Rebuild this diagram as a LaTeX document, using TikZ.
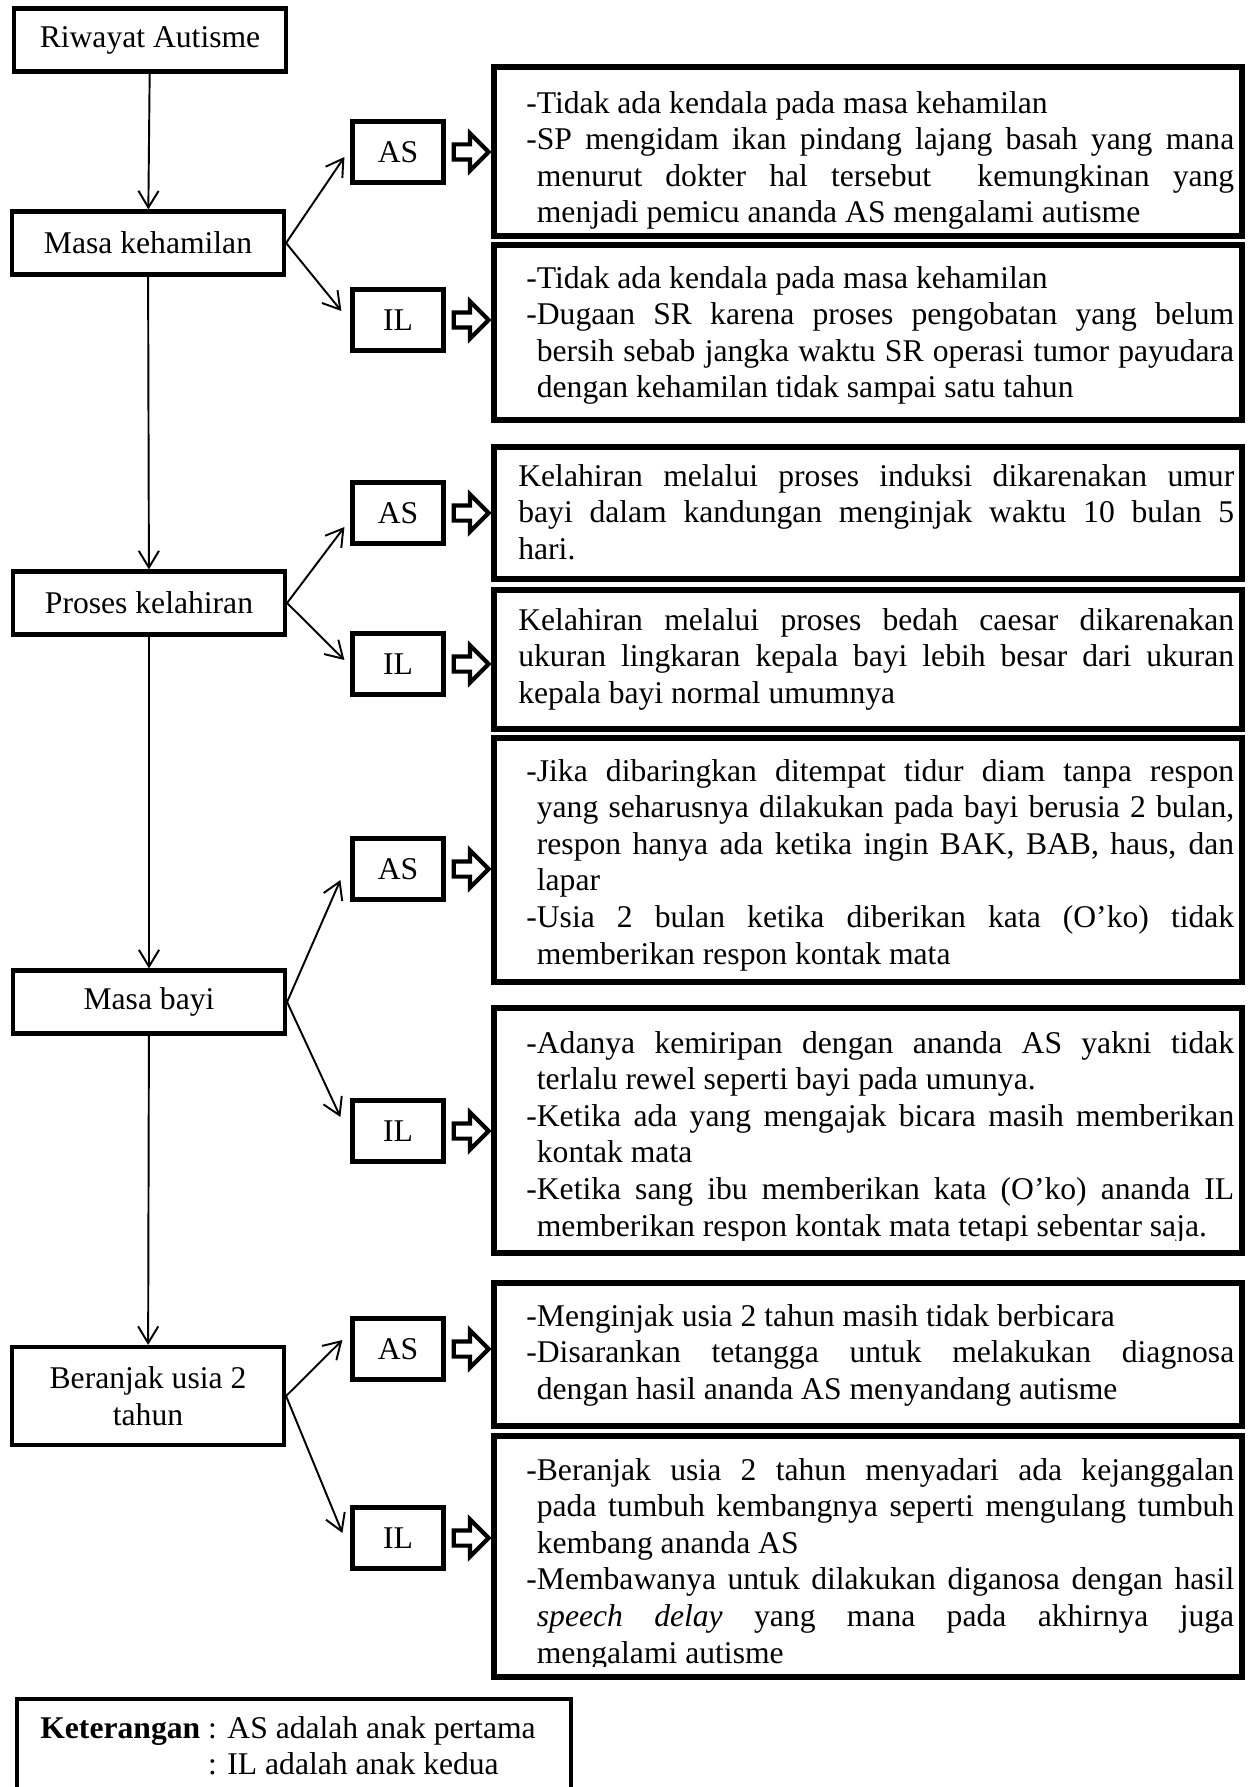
\documentclass[tikz,border=0pt]{standalone}
\usepackage{fontspec}
\setmainfont{Liberation Serif}
\usetikzlibrary{positioning,arrows.meta,shapes.arrows}

\tolerance=9999
\hbadness=10000
\hyphenpenalty=10000

% one dash item, text hangs after the dash (items are ended with \par)
\newcommand{\butir}{\noindent\hangindent=0.333em\hangafter=1 -}

\tikzset{
  tahap/.style={draw, line width=2.4pt, minimum width=5.44cm, minimum height=1.26cm, align=center},
  anak/.style={draw, line width=2.4pt, minimum width=1.82cm, minimum height=1.22cm},
  kotak/.style={draw, line width=3pt, minimum width=14.96cm, inner sep=0pt},
  isi/.style={anchor=north west, inner sep=0pt, text width=14.16cm, align=justify},
  isilebar/.style={isi, text width=14.32cm},
  panah/.style={line width=1.1pt, -{Straight Barb[length=9.5pt,width=11.5pt]}},
  blok/.style={draw, line width=2.4pt, single arrow, single arrow head extend=0.22cm,
    single arrow head indent=0pt, minimum height=0.70cm, minimum width=0.66cm, inner sep=0.11cm}
}

\begin{document}
\begin{tikzpicture}[x=0.02cm, y=-0.02cm, font=\fontsize{18pt}{20.8pt}\selectfont]
    \path[fill=white, use as bounding box] (0,0) rectangle (1250,1787);

    % Left column: stages
    \node[tahap] (riwayat) at (150,40) {Riwayat Autisme};
    \node[tahap] (hamil) at (148,243) {Masa kehamilan};
    \node[tahap] (lahir) at (149,603) {Proses kelahiran};
    \node[tahap] (bayi) at (149,1002) {Masa bayi};
    \node[tahap, minimum height=1.96cm] (duatahun) at (148,1396) {Beranjak usia 2\\tahun};

    % -- arrows down the column
    \draw[panah] (riwayat) -- (hamil);
    \draw[panah] (hamil) -- (lahir);
    \draw[panah] (lahir) -- (bayi);
    \draw[panah] (bayi) -- (duatahun);

    % Child boxes
    \node[anak] (asHamil) at (398,152) {AS};
    \node[anak] (ilHamil) at (398,320) {IL};
    \node[anak] (asLahir) at (398,513) {AS};
    \node[anak] (ilLahir) at (398,664) {IL};
    \node[anak] (asBayi) at (398,869) {AS};
    \node[anak] (ilBayi) at (398,1131) {IL};
    \node[anak] (asDua) at (398,1349) {AS};
    \node[anak] (ilDua) at (398,1538) {IL};

    % -- branches
    \draw[panah] (hamil.east) -- ([shift={(-6,5)}]asHamil.west);
    \draw[panah] (hamil.east) -- ([shift={(-9,-9)}]ilHamil.west);
    \draw[panah] (lahir.east) -- ([shift={(-6,14)}]asLahir.west);
    \draw[panah] (lahir.east) -- ([shift={(-6,-4)}]ilLahir.west);
    \draw[panah] (bayi.east) -- ([shift={(-10,11)}]asBayi.west);
    \draw[panah] (bayi.east) -- ([shift={(-10,-14)}]ilBayi.west);
    \draw[panah] (duatahun.east) -- ([shift={(-8,-9)}]asDua.west);
    \draw[panah] (duatahun.east) -- ([shift={(-8,-5)}]ilDua.west);

    % -- block arrows
    \node[blok, right=0.12cm of asHamil] (bAsHamil) {};
    \node[blok, right=0.12cm of ilHamil] (bIlHamil) {};
    \node[blok, right=0.12cm of asLahir] (bAsLahir) {};
    \node[blok, right=0.12cm of ilLahir] (bIlLahir) {};
    \node[blok, right=0.12cm of asBayi] (bAsBayi) {};
    \node[blok, right=0.12cm of ilBayi] (bIlBayi) {};
    \node[blok, right=0.12cm of asDua] (bAsDua) {};
    \node[blok, right=0.12cm of ilDua] (bIlDua) {};

    % Description boxes
    \node[kotak, minimum height=3.38cm] (kAsHamil) at (868,151.5) {};
    \node[kotak, minimum height=3.50cm] (kIlHamil) at (868,332.5) {};
    \node[kotak, minimum height=2.64cm] (kAsLahir) at (868,513) {};
    \node[kotak, minimum height=2.78cm] (kIlLahir) at (868,659.5) {};
    \node[kotak, minimum height=4.88cm] (kAsBayi) at (868,860) {};
    \node[kotak, minimum height=4.90cm] (kIlBayi) at (868,1130.5) {};
    \node[kotak, minimum height=2.86cm] (kAsDua) at (868,1354.5) {};
    \node[kotak, minimum height=4.82cm] (kIlDua) at (868,1556.5) {};

    % -- texts
    \node[isi] (tAsHamil) at (526,91) {%
      \butir Tidak ada kendala pada masa kehamilan\par
      \butir SP mengidam ikan pindang lajang basah yang mana\linebreak
      menurut dokter hal tersebut\ \ kemungkinan yang\linebreak
      menjadi pemicu ananda AS mengalami autisme\par};
    \node[isi] (tIlHamil) at (526,266) {%
      \butir Tidak ada kendala pada masa kehamilan\par
      \butir Dugaan SR karena proses pengobatan yang belum\linebreak
      bersih sebab jangka waktu SR operasi tumor payudara\linebreak
      dengan kehamilan tidak sampai satu tahun\par};
    \node[isilebar] (tAsLahir) at (518,464) {%
      Kelahiran melalui proses induksi dikarenakan umur\linebreak
      bayi dalam kandungan menginjak waktu 10 bulan 5\linebreak
      hari.};
    \node[isilebar] (tIlLahir) at (518,608) {%
      Kelahiran melalui proses bedah caesar dikarenakan\linebreak
      ukuran lingkaran kepala bayi lebih besar dari ukuran\linebreak
      kepala bayi normal umumnya};
    \node[isi] (tAsBayi) at (526,759) {%
      \butir Jika dibaringkan ditempat tidur diam tanpa respon\linebreak
      yang seharusnya dilakukan pada bayi berusia 2 bulan,\linebreak
      respon hanya ada ketika ingin BAK, BAB, haus, dan\linebreak
      lapar\par
      \butir Usia 2 bulan ketika diberikan kata (O’ko) tidak\linebreak
      memberikan respon kontak mata\par};
    \begin{scope}
      % text box cuts the last line
      \clip ([shift={(3,3)}]kIlBayi.north west) rectangle ([shift={(-3,-15)}]kIlBayi.south east);
      \node[isi] (tIlBayi) at (526,1031) {%
        \butir Adanya kemiripan dengan ananda AS yakni tidak\linebreak
        terlalu rewel seperti bayi pada umunya.\par
        \butir Ketika ada yang mengajak bicara masih memberikan\linebreak
        kontak mata\par
        \butir Ketika sang ibu memberikan kata (O’ko) ananda IL\linebreak
        memberikan respon kontak mata tetapi sebentar saja.\par};
    \end{scope}
    \node[isi] (tAsDua) at (526,1304) {%
      \butir Menginjak usia 2 tahun masih tidak berbicara\par
      \butir Disarankan tetangga untuk melakukan diagnosa\linebreak
      dengan hasil ananda AS menyandang autisme\par};
    \begin{scope}
      \clip ([shift={(3,3)}]kIlDua.north west) rectangle ([shift={(-3,-13)}]kIlDua.south east);
      \node[isi] (tIlDua) at (526,1458) {%
        \butir Beranjak usia 2 tahun menyadari ada kejanggalan\linebreak
        pada tumbuh kembangnya seperti mengulang tumbuh\linebreak
        kembang ananda AS\par
        \butir Membawanya untuk dilakukan diganosa dengan hasil\linebreak
        \textit{speech delay} yang mana pada akhirnya juga\linebreak
        mengalami autisme\par};
    \end{scope}

    % Legend
    \node[draw, line width=2.4pt, anchor=north west, minimum width=11.08cm, minimum height=2.4cm] (ket) at (15,1697) {};
    \node[anchor=north west, inner sep=0pt, align=left] (ketIsi) at (40,1716)
      {\textbf{Keterangan} : AS adalah anak pertama\\\phantom{\textbf{Keterangan} }: IL adalah anak kedua};
\end{tikzpicture}
\end{document}
